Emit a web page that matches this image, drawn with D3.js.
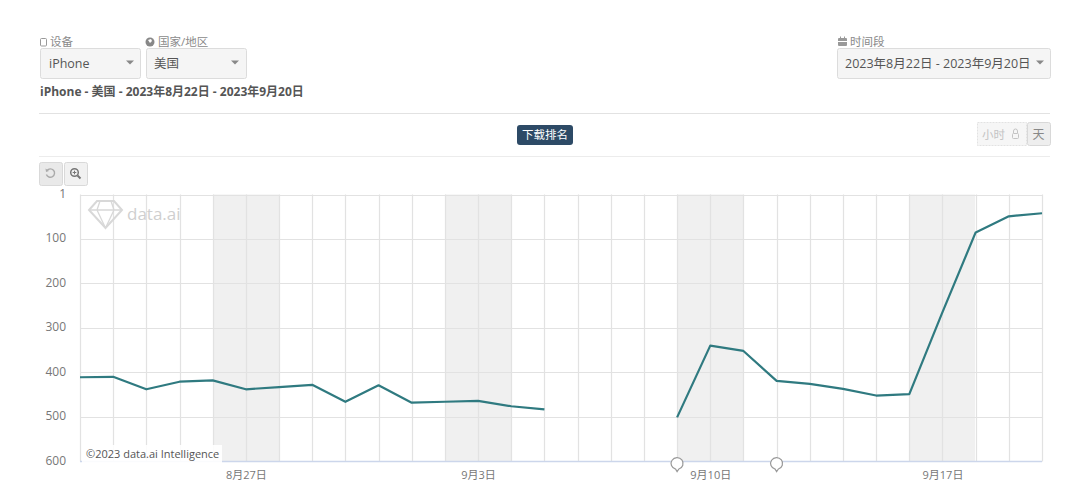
<!DOCTYPE html>
<html><head><meta charset="utf-8">
<script src="https://cdn.jsdelivr.net/npm/d3@7"></script>
<style>
html,body{margin:0;padding:0;background:#fff;overflow:hidden}
svg{display:block}
text{font-family:"Open Sans","Noto Sans CJK SC",sans-serif}
</style></head><body>
<svg id="c" width="1080" height="489"></svg>
<script>
const days = ["8月22日","8月23日","8月24日","8月25日","8月26日","8月27日","8月28日","8月29日","8月30日","8月31日","9月1日","9月2日","9月3日","9月4日","9月5日","9月6日","9月7日","9月8日","9月9日","9月10日","9月11日","9月12日","9月13日","9月14日","9月15日","9月16日","9月17日","9月18日","9月19日","9月20日"];
const ranks = [411,410,438,421,418,438,433,428,466,429,468,466,464,476,483,null,null,null,501,340,352,419,426,437,452,449,265,86,50,43];
const yTicks = [1,100,200,300,400,500,600];
const xTickLabels = ["8月27日","9月3日","9月10日","9月17日"];
const weekendStarts = ["8月26日","9月2日","9月9日","9月16日"];
const noteDays = ["9月9日","9月12日"];

const svg = d3.select("#c");
const x = d3.scalePoint().domain(days).range([80,1042]);
const y = d3.scaleLinear().domain([1,600]).range([194.5,461.5]);
const grid = "#e2e2e2", muted="#8a8a8a";

function panel(px,py,w,h,fill,stroke){
  return svg.append("rect").attr("x",px+.5).attr("y",py+.5).attr("width",w).attr("height",h).attr("rx",2)
    .attr("fill",fill||"#f5f5f5").attr("stroke",stroke||"#dcdcdc");
}
function label(px,py,t,size,fill,anchor,weight){
  return svg.append("text").attr("x",px).attr("y",py).text(t).attr("font-size",size).attr("fill",fill)
    .attr("text-anchor",anchor||"start").attr("font-weight",weight||400);
}
function caret(cx,cy){
  svg.append("path").attr("d",`M${cx-4},${cy-1.5}h8l-4,4z`).attr("fill","#888");
}

// controls
svg.append("rect").attr("x",40.5).attr("y",38.5).attr("width",6).attr("height",7.5).attr("rx",1).attr("fill","none").attr("stroke","#999");
label(50,46,"设备",11.5,muted);
svg.append("circle").attr("cx",150).attr("cy",42).attr("r",4.5).attr("fill","#888");
svg.append("path").attr("d","M148,40l3,-1l1,2l-2,2z").attr("fill","#fff");
label(158,46,"国家/地区",11.5,muted);
panel(40,48,100,30); label(49,68,"iPhone",12.5,"#555"); caret(130,62);
panel(146,48,100,30); label(154,68,"美国",12.5,"#555"); caret(235,62);
label(40,96,"iPhone - 美国 - 2023年8月22日 - 2023年9月20日",12,"#555","start",700);

svg.append("rect").attr("x",838).attr("y",38).attr("width",9).attr("height",8).attr("rx",1).attr("fill","#999");
svg.append("path").attr("d","M838,40.500h9M840.500,36.500v2M844.500,36.500v2").attr("stroke","#999").attr("fill","none");
svg.append("path").attr("d","M838,41.500h9").attr("stroke","#fff");
label(850,46,"时间段",11.5,muted);
panel(837,48,213,30); label(845,68,"2023年8月22日 - 2023年9月20日",12.5,"#555"); caret(1040,62);

// separators
[113,156].forEach(v=>svg.append("line").attr("x1",39).attr("x2",1050).attr("y1",v+.5).attr("y2",v+.5).attr("stroke",v===113?"#e2e2e2":"#ececec"));

// metric tag
svg.append("rect").attr("x",517).attr("y",125).attr("width",56).attr("height",20).attr("rx",3).attr("fill","#2d4a66");
label(545,139,"下载排名",11.5,"#fff","middle");

// hour / day toggle
svg.append("rect").attr("x",977.5).attr("y",122.5).attr("width",49).attr("height",23).attr("fill","#f6f6f6").attr("stroke","#e2e2e2").attr("stroke-dasharray","2 1");
label(982,139,"小时",11.5,"#c4c4c4");
svg.append("rect").attr("x",1012.5).attr("y",133.5).attr("width",6).attr("height",5).attr("rx",1).attr("fill","none").attr("stroke","#c4c4c4");
svg.append("path").attr("d","M1013.5,133v-2a2,2 0 0 1 4,0v2").attr("fill","none").attr("stroke","#c4c4c4");
panel(1027,122,23,23,"#eeeeee","#d8d8d8"); label(1038.5,139,"天",12,"#888","middle");

// zoom buttons
panel(39,162,23,23,"#e9e9e9","#d9d9d9");
panel(64,162,23,23,"#f1f1f1","#d9d9d9");
svg.append("path").attr("d","M47,170.5a4.2,4.2 0 1 1 -0.6,4").attr("fill","none").attr("stroke","#aaa").attr("stroke-width",1.4);
svg.append("path").attr("d","M45.5,168.5l.5,3.5l3,-1z").attr("fill","#aaa");
svg.append("circle").attr("cx",74.5).attr("cy",172.5).attr("r",3.8).attr("fill","none").attr("stroke","#777").attr("stroke-width",1.5);
svg.append("path").attr("d","M77.5,175.5l3,3").attr("stroke","#777").attr("stroke-width",2);
svg.append("path").attr("d","M72.7,172.5h3.6M74.5,170.7v3.6").attr("stroke","#777").attr("stroke-width",1);

// weekend bands
const step = x.step();
svg.append("g").selectAll("rect").data(weekendStarts).join("rect")
  .attr("x",d=>Math.round(x(d))).attr("y",y(1)).attr("width",Math.round(step*2)).attr("height",y(600)-y(1)).attr("fill","#f0f0f0");

// grid
svg.append("g").selectAll("line").data(days).join("line")
  .attr("x1",d=>Math.round(x(d))+.5).attr("x2",d=>Math.round(x(d))+.5).attr("y1",y(1)).attr("y2",y(600))
  .attr("stroke",grid).attr("stroke-width",1.2);
svg.append("g").selectAll("line").data(yTicks.slice(0,-1)).join("line")
  .attr("x1",80).attr("x2",1042).attr("y1",d=>Math.round(y(d))+.5).attr("y2",d=>Math.round(y(d))+.5)
  .attr("stroke",grid).attr("stroke-width",1.2);
svg.append("line").attr("x1",80).attr("x2",1042).attr("y1",y(600)).attr("y2",y(600)).attr("stroke","#ccd6eb").attr("stroke-width",1.5);

// y axis labels
svg.append("g").selectAll("text").data(yTicks).join("text")
  .attr("x",66).attr("y",d=>y(d)+3.5).attr("text-anchor","end").attr("font-size",12).attr("fill","#777").text(d=>d);

// x axis labels
svg.append("g").selectAll("text").data(xTickLabels).join("text")
  .attr("x",d=>x(d)+.5).attr("y",479).attr("text-anchor","middle").attr("font-size",11).attr("fill","#777").text(d=>d);

// line
const line = d3.line().defined(d=>d!==null).x((d,i)=>x(days[i])).y(d=>y(d));
svg.append("path").attr("d",line(ranks)).attr("fill","none").attr("stroke","#2f7a80").attr("stroke-width",2.2).attr("stroke-linejoin","round");

// note markers: speech bubbles
const notes = svg.append("g").selectAll("g").data(noteDays).join("g").attr("transform",d=>`translate(${x(d)},463.5)`);
notes.append("path").attr("d","M-1.5,5.6A6,5.800 0 1 1 1.800,5.500L0,8.200Z").attr("fill","#fff").attr("stroke","#999").attr("stroke-width",1.2);

// credit
svg.append("rect").attr("x",82).attr("y",445).attr("width",140).attr("height",18).attr("fill","#fff").attr("opacity",.9);
label(86,458,"©2023 data.ai Intelligence",11,"#555");

// watermark
const wm = svg.append("g").attr("fill","none").attr("stroke","#d8d8d8").attr("stroke-width",2);
wm.append("path").attr("d","M97,201h17l8,9l-16.500,18l-16.500,-18z");
wm.append("path").attr("d","M89,210h33M100,201l-3,9l8.500,18l8.500,-18l-3,-9").attr("stroke-width",1.300);
label(127,220,"data.ai",17,"#cfcfcf");
</script>
</body></html>
